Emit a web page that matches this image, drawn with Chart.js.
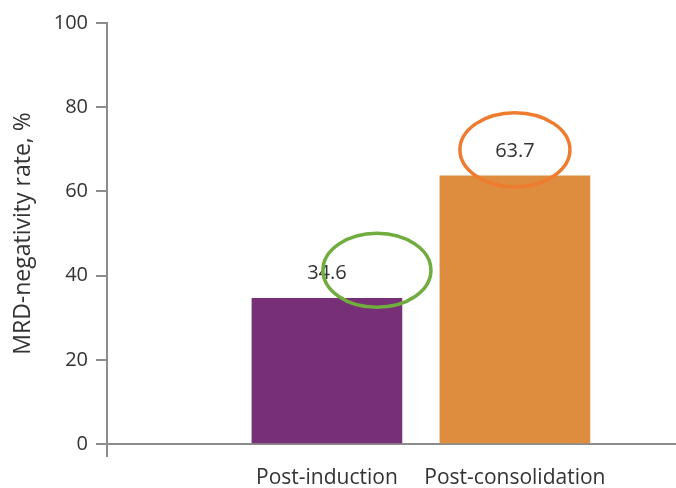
<!DOCTYPE html>
<html>
<head>
<meta charset="utf-8">
<script src="https://cdn.jsdelivr.net/npm/chart.js@4.4.1/dist/chart.umd.min.js"></script>
<style>
  html, body { margin: 0; padding: 0; background: #ffffff; }
  #wrap { width: 676px; height: 488px; }
</style>
</head>
<body>
<div id="wrap"><canvas id="c" width="676" height="488"></canvas></div>
<script>
// Response milestones and MRD-negativity rates (%)
const categories = ['Post-induction', 'Post-consolidation'];
const positions = [1, 2];
const rates = [34.6, 63.7];
const yTicks = [0, 20, 40, 60, 80, 100];

const barColors = ['#772f78', '#de8d3f'];
const axisColor = '#8c8c8c';
const textColor = '#333333';
const fontFamily = '"Open Sans", "DejaVu Sans", sans-serif';

// Highlight rings drawn around the value labels (offsets in px from label centre)
const rings = [
  { dx: 50, dy: -3, rx: 54, ry: 37, color: '#70ad3e' },
  { dx: 0, dy: -1, rx: 55, ry: 37, color: '#ee7c2f' }
];

const valueLabels = {
  id: 'valueLabels',
  afterDatasetsDraw(chart) {
    const ctx = chart.ctx;
    const meta = chart.getDatasetMeta(0);
    ctx.save();
    ctx.font = '20px ' + fontFamily;
    ctx.fillStyle = textColor;
    ctx.textAlign = 'center';
    ctx.textBaseline = 'middle';
    meta.data.forEach((bar, i) => {
      const lx = bar.x;
      const ly = bar.y - 25;
      ctx.fillText(String(rates[i]), lx, ly);
      const r = rings[i];
      ctx.beginPath();
      ctx.ellipse(lx + r.dx, ly + r.dy, r.rx, r.ry, 0, 0, Math.PI * 2);
      ctx.lineWidth = 3.5;
      ctx.strokeStyle = r.color;
      ctx.stroke();
    });
    ctx.restore();
  }
};

// Short continuation of the y-axis line below the baseline
const axisStub = {
  id: 'axisStub',
  afterDraw(chart) {
    const ctx = chart.ctx;
    const a = chart.chartArea;
    ctx.save();
    ctx.strokeStyle = axisColor;
    ctx.lineWidth = 2;
    ctx.beginPath();
    ctx.moveTo(a.left, a.bottom);
    ctx.lineTo(a.left, a.bottom + 13);
    ctx.stroke();
    ctx.restore();
  }
};

new Chart(document.getElementById('c'), {
  type: 'bar',
  data: {
    datasets: [{
      data: positions.map((p, i) => ({ x: p, y: rates[i] })),
      backgroundColor: barColors,
      borderWidth: 0,
      barThickness: 150
    }]
  },
  options: {
    responsive: false,
    animation: false,
    devicePixelRatio: 1,
    layout: { padding: { top: 23, right: 0, left: 0, bottom: 0 } },
    plugins: { legend: { display: false }, tooltip: { enabled: false } },
    scales: {
      x: {
        type: 'linear',
        offset: false,
        bounds: 'data',
        min: -0.17,
        max: 2.857,
        afterBuildTicks(scale) {
          scale.ticks = positions.map(v => ({ value: v }));
        },
        afterFit(scale) { scale.height = 44; },
        grid: { display: false, offset: false },
        border: { display: true, color: axisColor, width: 2 },
        ticks: {
          autoSkip: false,
          maxRotation: 0,
          padding: 13,
          color: textColor,
          font: { family: fontFamily, size: 21 },
          callback(v) {
            const i = positions.indexOf(v);
            return i >= 0 ? categories[i] : '';
          }
        }
      },
      y: {
        min: 0,
        max: 100,
        afterBuildTicks(scale) {
          scale.ticks = yTicks.map(v => ({ value: v }));
        },
        afterFit(scale) { scale.width = 107; },
        grid: {
          drawOnChartArea: false,
          drawTicks: true,
          tickLength: 11,
          color: axisColor,
          lineWidth: 2
        },
        border: { display: true, color: axisColor, width: 2 },
        ticks: {
          padding: 8,
          color: textColor,
          font: { family: fontFamily, size: 20 }
        },
        title: {
          display: true,
          text: 'MRD-negativity rate, %',
          color: textColor,
          font: { family: fontFamily, size: 23 },
          padding: { top: 10, bottom: 4 }
        }
      }
    }
  },
  plugins: [valueLabels, axisStub]
});
</script>
</body>
</html>
